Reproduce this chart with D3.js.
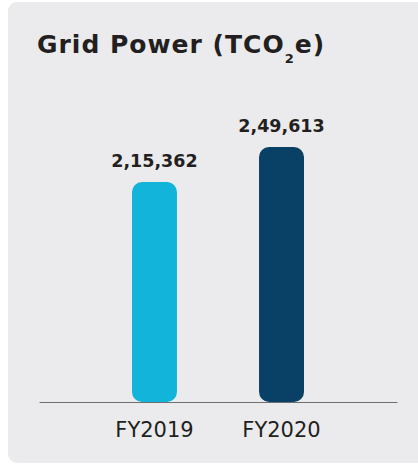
<!DOCTYPE html>
<html>
<head>
<meta charset="utf-8">
<script src="https://cdn.jsdelivr.net/npm/d3@7"></script>
<style>
  html, body { margin: 0; padding: 0; background: #fff; }
  #svg-container { width: 418px; height: 465px; }
  text { font-family: "DejaVu Sans", sans-serif; }
</style>
</head>
<body>
<div id="svg-container"></div>
<script>
// data
const years = ["FY2019", "FY2020"];
const emissions = [215362, 249613];
const valueLabels = ["2,15,362", "2,49,613"];
const barColors = ["#12b5d9", "#084165"];

const width = 418;
const height = 465;
const margin = { top: 147, right: 21, bottom: 63, left: 39 };

const svg = d3.select("#svg-container").append("svg")
  .attr("width", width).attr("height", height);

// panel
svg.append("rect")
  .attr("x", 8).attr("y", 2)
  .attr("width", 430).attr("height", 461)
  .attr("rx", 9)
  .attr("fill", "#ebebed");

// title
const title = svg.append("text")
  .attr("x", 37).attr("y", 53)
  .attr("font-size", 25).attr("font-weight", 700)
  .attr("letter-spacing", 1)
  .attr("fill", "#231f20");
title.append("tspan").text("Grid Power (TCO");
title.append("tspan").attr("font-size", 13).attr("dy", 10).text("2");
title.append("tspan").attr("dy", -10).text("e)");

// scales
const xScale = d3.scaleBand()
  .domain(years)
  .range([margin.left, width - margin.right])
  .paddingInner(0.646)
  .paddingOuter(0.732);

const yScale = d3.scaleLinear()
  .domain([0, d3.max(emissions)])
  .range([height - margin.bottom, margin.top]);

const data = years.map((y, i) => ({ year: y, value: emissions[i], label: valueLabels[i], color: barColors[i] }));

// bars
svg.selectAll(".bar")
  .data(data)
  .enter()
  .append("rect")
  .attr("class", "bar")
  .attr("x", (d) => xScale(d.year))
  .attr("y", (d) => yScale(d.value))
  .attr("width", xScale.bandwidth())
  .attr("height", (d) => yScale(0) - yScale(d.value))
  .attr("rx", 10)
  .attr("fill", (d) => d.color);

// value labels
svg.selectAll(".val")
  .data(data)
  .enter()
  .append("text")
  .attr("class", "val")
  .attr("x", (d) => xScale(d.year) + xScale.bandwidth() / 2)
  .attr("y", (d) => yScale(d.value) - 15)
  .attr("text-anchor", "middle")
  .attr("font-size", 17.5).attr("font-weight", 700)
  .attr("fill", "#231f20")
  .text((d) => d.label);

// x axis
const xAxis = d3.axisBottom(xScale).tickSize(0).tickPadding(20);
const gx = svg.append("g")
  .attr("transform", `translate(0,${yScale(0)})`)
  .call(xAxis);
gx.select(".domain").attr("stroke", "#6d6e71").attr("stroke-width", 1.2);
gx.selectAll("text")
  .attr("font-size", 21)
  .attr("fill", "#231f20")
  .attr("font-family", "DejaVu Sans, sans-serif");
</script>
</body>
</html>
